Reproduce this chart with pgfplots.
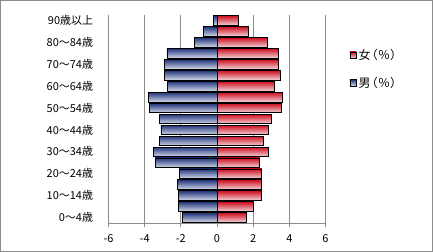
\documentclass[border=0pt]{standalone}
\usepackage{fontspec}
\setmainfont{Noto Sans CJK JP}
\newfontfamily\legfont[RawFeature=+palt]{Noto Sans CJK JP}
\usepackage{pgfplots}
\usepackage{pgfplotstable}
\pgfplotsset{compat=1.18}
\definecolor{mtop}{HTML}{22347A}
\definecolor{mbot}{HTML}{D4DAEA}
\definecolor{ftop}{HTML}{CC0E1E}
\definecolor{fbot}{HTML}{F4D4DA}
\definecolor{gridc}{HTML}{8C8C8C}
\pgfplotstableread{
y  m      f
0  -1.89  1.65
1  -2.15  2.04
2  -2.15  2.44
3  -2.18  2.48
4  -2.09  2.48
5  -3.42  2.37
6  -3.53  2.86
7  -3.20  2.59
8  -3.10  2.86
9  -3.20  3.03
10 -3.76  3.58
11 -3.80  3.63
12 -2.75  3.19
13 -2.92  3.52
14 -2.92  3.41
15 -2.77  3.41
16 -1.27  2.81
17 -0.77  1.76
18 -0.22  1.16
}\pyramid
\begin{document}
\begin{tikzpicture}
\draw[gridc, line width=1bp] (0.5bp,0.5bp) rectangle (432.5bp,251.5bp);
\begin{axis}[
  at={(108.5bp,29bp)}, anchor=south west,
  scale only axis, width=217bp, height=208bp,
  xmin=-6, xmax=6, ymin=-0.5, ymax=18.5,
  xtick={-6,-4,...,6},
  ytick={0,2,...,18},
  yticklabels={0～4歳,10～14歳,20～24歳,30～34歳,40～44歳,50～54歳,60～64歳,70～74歳,80～84歳,90歳以上},
  axis x line*=bottom, axis y line*=left,
  y axis line style={draw=none},
  x axis line style={gridc, line width=0.8bp},
  ytick style={draw=none},
  xtick style={gridc, line width=0.8bp},
  tick align=outside, major tick length=4bp,
  xmajorgrids, grid style={gridc, line width=0.8bp},
  font=\fontsize{11}{13}\selectfont,
  /pgf/number format/assume math mode=true,
  yticklabel style={xshift=-8bp},
  xticklabel style={yshift=-4bp},
  xbar, bar width=0.88, bar shift=0pt,
  unbounded coords=discard,
  legend style={at={(1.11,0.845)}, anchor=north west, draw=none, fill=none,
    inner sep=0pt, row sep=12bp, font=\legfont\fontsize{12}{13}\selectfont},
  legend cell align=left,
  legend image code/.code={\draw[#1, line width=0.5bp] (0bp,-3bp) rectangle (6.5bp,3.5bp);},
]
\pgfplotsinvokeforeach{0,...,18}{
  \addplot[forget plot, draw=black, line width=0.8bp, top color=ftop, bottom color=fbot,
    y filter/.expression={abs(y-#1)<0.1 ? y : nan}] table[x=f, y=y] {\pyramid};
  \addplot[forget plot, draw=black, line width=0.8bp, top color=mtop, bottom color=mbot,
    y filter/.expression={abs(y-#1)<0.1 ? y : nan}] table[x=m, y=y] {\pyramid};
}
\addlegendimage{draw=black, top color=ftop, bottom color=fbot}
\addlegendentry{女\hspace{1bp}（\hspace{0.5bp}％\hspace{0.5bp}）}
\addlegendimage{draw=black, top color=mtop, bottom color=mbot}
\addlegendentry{男\hspace{1bp}（\hspace{0.5bp}％\hspace{0.5bp}）}
\end{axis}
\end{tikzpicture}
\end{document}
